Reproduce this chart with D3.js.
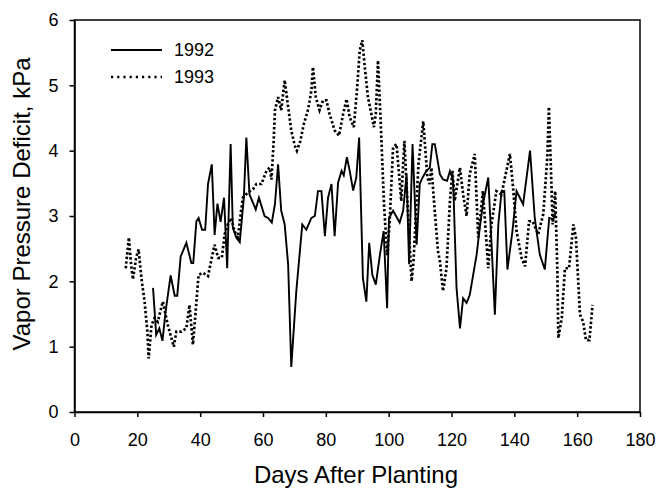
<!DOCTYPE html>
<html>
<head>
<meta charset="utf-8">
<script src="https://cdn.jsdelivr.net/npm/d3@7"></script>
<style>
  body { margin: 0; background: #fff; }
  svg text { font-family: "Liberation Sans", Arial, sans-serif; fill: #000; }
</style>
</head>
<body>
<svg id="chart" width="659" height="490"></svg>
<script>
// 1992 season
const days1992 = [25, 26, 27, 28, 29, 30.6, 31.9, 32.7, 33.8, 35.6, 37.2, 37.8, 38.8, 39.5, 40.6, 41.6,
  42.5, 43.7, 44.6, 45.5, 46.5, 47.6, 48.6, 49.7, 50.4, 51.5, 52.6, 53.9, 54.7, 55.7, 57.7, 58.7,
  60.5, 61.6, 62.8, 63.8, 64.8, 65.8, 66.9, 68, 69, 70.6, 72.5, 73.8, 75.4, 76.5, 77.5, 78.6,
  79.7, 80.7, 81.8, 82.8, 83.9, 85, 85.7, 86.7, 87.6, 88.7, 89.7, 90.6, 91.8, 92.9, 93.8, 94.8,
  95.9, 97.2, 98.4, 99.5, 100.1, 101.4, 103.5, 104.6, 105.7, 106.5, 107.6, 108.9, 109.9, 110.8, 112, 113.1,
  113.9, 114.7, 116.3, 117.3, 118.6, 119.5, 120.5, 121.6, 122.7, 123.7, 124.8, 125.8, 126.9, 128, 129, 130,
  131.7, 132.7, 133.8, 134.9, 135.9, 136.8, 137.8, 139.4, 140.7, 142.8, 145, 146.5, 148.1, 149.7, 151.1, 152.4,
  153.2];
const vpd1992 = [1.90, 1.18, 1.28, 1.09, 1.54, 2.09, 1.78, 1.78, 2.38, 2.59, 2.28, 2.28, 2.92, 2.97, 2.79, 2.79,
  3.49, 3.79, 2.71, 3.19, 2.91, 3.28, 2.20, 4.10, 2.82, 2.67, 2.60, 3.28, 4.20, 3.33, 3.10, 3.28,
  3.00, 2.97, 2.90, 3.18, 3.79, 3.08, 2.87, 2.26, 0.69, 1.85, 2.87, 2.79, 2.97, 3.00, 3.38, 3.38,
  2.69, 3.28, 3.49, 2.69, 3.51, 3.69, 3.62, 3.90, 3.69, 3.39, 3.59, 4.20, 2.05, 1.69, 2.59, 2.10,
  1.95, 2.40, 2.77, 1.59, 2.97, 3.08, 2.90, 3.08, 3.64, 2.26, 4.10, 2.56, 3.49, 3.59, 3.69, 3.74,
  4.10, 4.10, 3.64, 3.56, 3.54, 3.69, 3.56, 1.90, 1.28, 1.74, 1.67, 1.79, 2.10, 2.41, 2.82, 3.18,
  3.59, 2.62, 1.49, 2.87, 3.36, 3.38, 2.18, 2.77, 3.38, 3.18, 4.00, 2.97, 2.41, 2.18, 2.97, 2.95,
  3.05];

// 1993 season
const days1993 = [16.3, 17.3, 18, 18.6, 19.6, 20.4, 21.3, 22.3, 23.2, 23.6, 24.5, 25.5, 26.5, 28.1, 29.7, 31.6,
  32.4, 34, 35.6, 36.6, 37.7, 38.4, 39.5, 40.9, 42.5, 43.7, 44.6, 45.7, 46.9, 47.8, 48.8, 49.9,
  50.9, 52, 52.9, 53.6, 55.2, 56.8, 57.9, 59.5, 61.1, 62.1, 62.7, 63.4, 63.8, 64.8, 65.8, 66.9,
  68, 69, 70.1, 70.8, 71.9, 73, 74.3, 75.4, 75.9, 76.8, 78, 79.1, 80.2, 81.2, 82.8, 84.2,
  85.5, 86.6, 87.6, 88.9, 89.9, 90.8, 91.6, 92.4, 93.4, 94.5, 95.3, 95.9, 96.6, 97.5, 98.5, 99.5,
  100.3, 101.4, 102.5, 104, 105, 106.2, 107.3, 107.9, 109.5, 111, 112.3, 113, 113.6, 114.8, 115.7, 116.3,
  117.3, 118.4, 119.5, 120.3, 121, 122.7, 123.7, 124.8, 125.8, 127.4, 128.5, 130, 131.7, 132.7, 134.3, 135.9,
  138.6, 139.7, 140.7, 142.3, 143.4, 144.7, 145.8, 147.6, 149.2, 150.5, 151, 151.7, 152.2, 153, 153.7, 154,
  155.1, 156.1, 157.4, 158.8, 159.6, 160.9, 161.9, 162.8, 163.9, 164.9];
const vpd1993 = [2.20, 2.67, 2.26, 2.03, 2.36, 2.49, 2.05, 1.69, 1.23, 0.82, 1.33, 1.44, 1.38, 1.69, 1.33, 1.00,
  1.23, 1.23, 1.28, 1.64, 1.03, 1.44, 2.10, 2.13, 2.08, 2.36, 2.56, 2.36, 2.36, 2.72, 2.87, 2.97,
  2.77, 2.67, 3.03, 3.28, 3.36, 3.41, 3.49, 3.49, 3.69, 3.74, 3.56, 4.15, 4.62, 4.82, 4.62, 5.08,
  4.67, 4.31, 4.08, 4.00, 4.15, 4.41, 4.62, 4.92, 5.28, 4.82, 4.62, 4.77, 4.77, 4.56, 4.31, 4.23,
  4.56, 4.79, 4.51, 4.36, 4.92, 5.54, 5.69, 5.28, 4.82, 4.56, 4.36, 4.56, 5.38, 4.40, 3.20, 2.40,
  2.90, 4.05, 4.10, 3.23, 4.15, 3.00, 2.00, 2.30, 3.80, 4.45, 3.60, 3.49, 3.74, 3.00, 2.46, 2.31,
  1.85, 2.20, 3.23, 3.69, 3.23, 3.74, 3.33, 3.00, 3.64, 3.95, 2.67, 3.38, 2.20, 2.87, 3.38, 3.33,
  3.95, 3.38, 2.77, 2.36, 2.23, 2.92, 2.92, 2.72, 3.03, 3.90, 4.67, 3.64, 2.87, 3.38, 2.15, 1.13,
  1.44, 2.20, 2.20, 2.87, 2.67, 1.49, 1.38, 1.10, 1.10, 1.64];

const xTicks = [0, 20, 40, 60, 80, 100, 120, 140, 160, 180];
const yTicks = [0, 1, 2, 3, 4, 5, 6];
const seriesNames = ["1992", "1993"];

const svg = d3.select('#chart');
const plotLeft = 74.5, plotRight = 640, plotTop = 20, plotBottom = 412;

const x = d3.scaleLinear().domain([0, 180]).range([plotLeft, plotRight]);
const y = d3.scaleLinear().domain([0, 6]).range([plotBottom, plotTop]);

// plot box
svg.append('rect')
  .attr('x', plotLeft).attr('y', plotTop)
  .attr('width', plotRight - plotLeft).attr('height', plotBottom - plotTop)
  .attr('fill', 'none').attr('stroke', '#000').attr('stroke-width', 1.5);

// axes
const xAxis = svg.append('g')
  .attr('transform', `translate(0,${plotBottom})`)
  .call(d3.axisBottom(x).tickValues(xTicks).tickFormat(d3.format('d'))
    .tickSize(5).tickPadding(16).tickSizeOuter(0));
const yAxis = svg.append('g')
  .attr('transform', `translate(${plotLeft},0)`)
  .call(d3.axisLeft(y).tickValues(yTicks).tickFormat(d3.format('d'))
    .tickSize(5).tickPadding(11).tickSizeOuter(0));

[xAxis, yAxis].forEach(g => {
  g.select('.domain').attr('stroke', '#000').attr('stroke-width', 1.5);
  g.selectAll('.tick line').attr('stroke', '#000').attr('stroke-width', 1.5);
  g.selectAll('.tick text').style('font-size', '18px').style('font-family', '"Liberation Sans", Arial, sans-serif').attr('fill', '#000');
});

// axis titles
svg.append('text')
  .attr('x', 356).attr('y', 483)
  .attr('text-anchor', 'middle')
  .style('font-size', '24px')
  .text('Days After Planting');

svg.append('text')
  .attr('transform', 'translate(29.5,204) rotate(-90)')
  .attr('text-anchor', 'middle')
  .style('font-size', '24px')
  .text('Vapor Pressure Deficit, kPa');

// lines
const line = d3.line().x(d => x(d[0])).y(d => y(d[1]));

svg.append('path')
  .datum(d3.zip(days1993, vpd1993))
  .attr('d', line)
  .attr('fill', 'none')
  .attr('stroke', '#000')
  .attr('stroke-width', 2.7)
  .attr('stroke-dasharray', '2.4,2.2');

svg.append('path')
  .datum(d3.zip(days1992, vpd1992))
  .attr('d', line)
  .attr('fill', 'none')
  .attr('stroke', '#000')
  .attr('stroke-width', 1.9)
  .attr('stroke-linejoin', 'miter');

// legend
const legend = svg.append('g');
const legendY = [50, 77];
seriesNames.forEach((name, i) => {
  legend.append('line')
    .attr('x1', 111).attr('x2', 162)
    .attr('y1', legendY[i]).attr('y2', legendY[i])
    .attr('stroke', '#000')
    .attr('stroke-width', i === 0 ? 1.9 : 2.5)
    .attr('stroke-dasharray', i === 0 ? null : '2.2,4');
  legend.append('text')
    .attr('x', 174).attr('y', legendY[i])
    .attr('dy', '0.35em')
    .style('font-size', '18px')
    .text(name);
});
</script>
</body>
</html>
